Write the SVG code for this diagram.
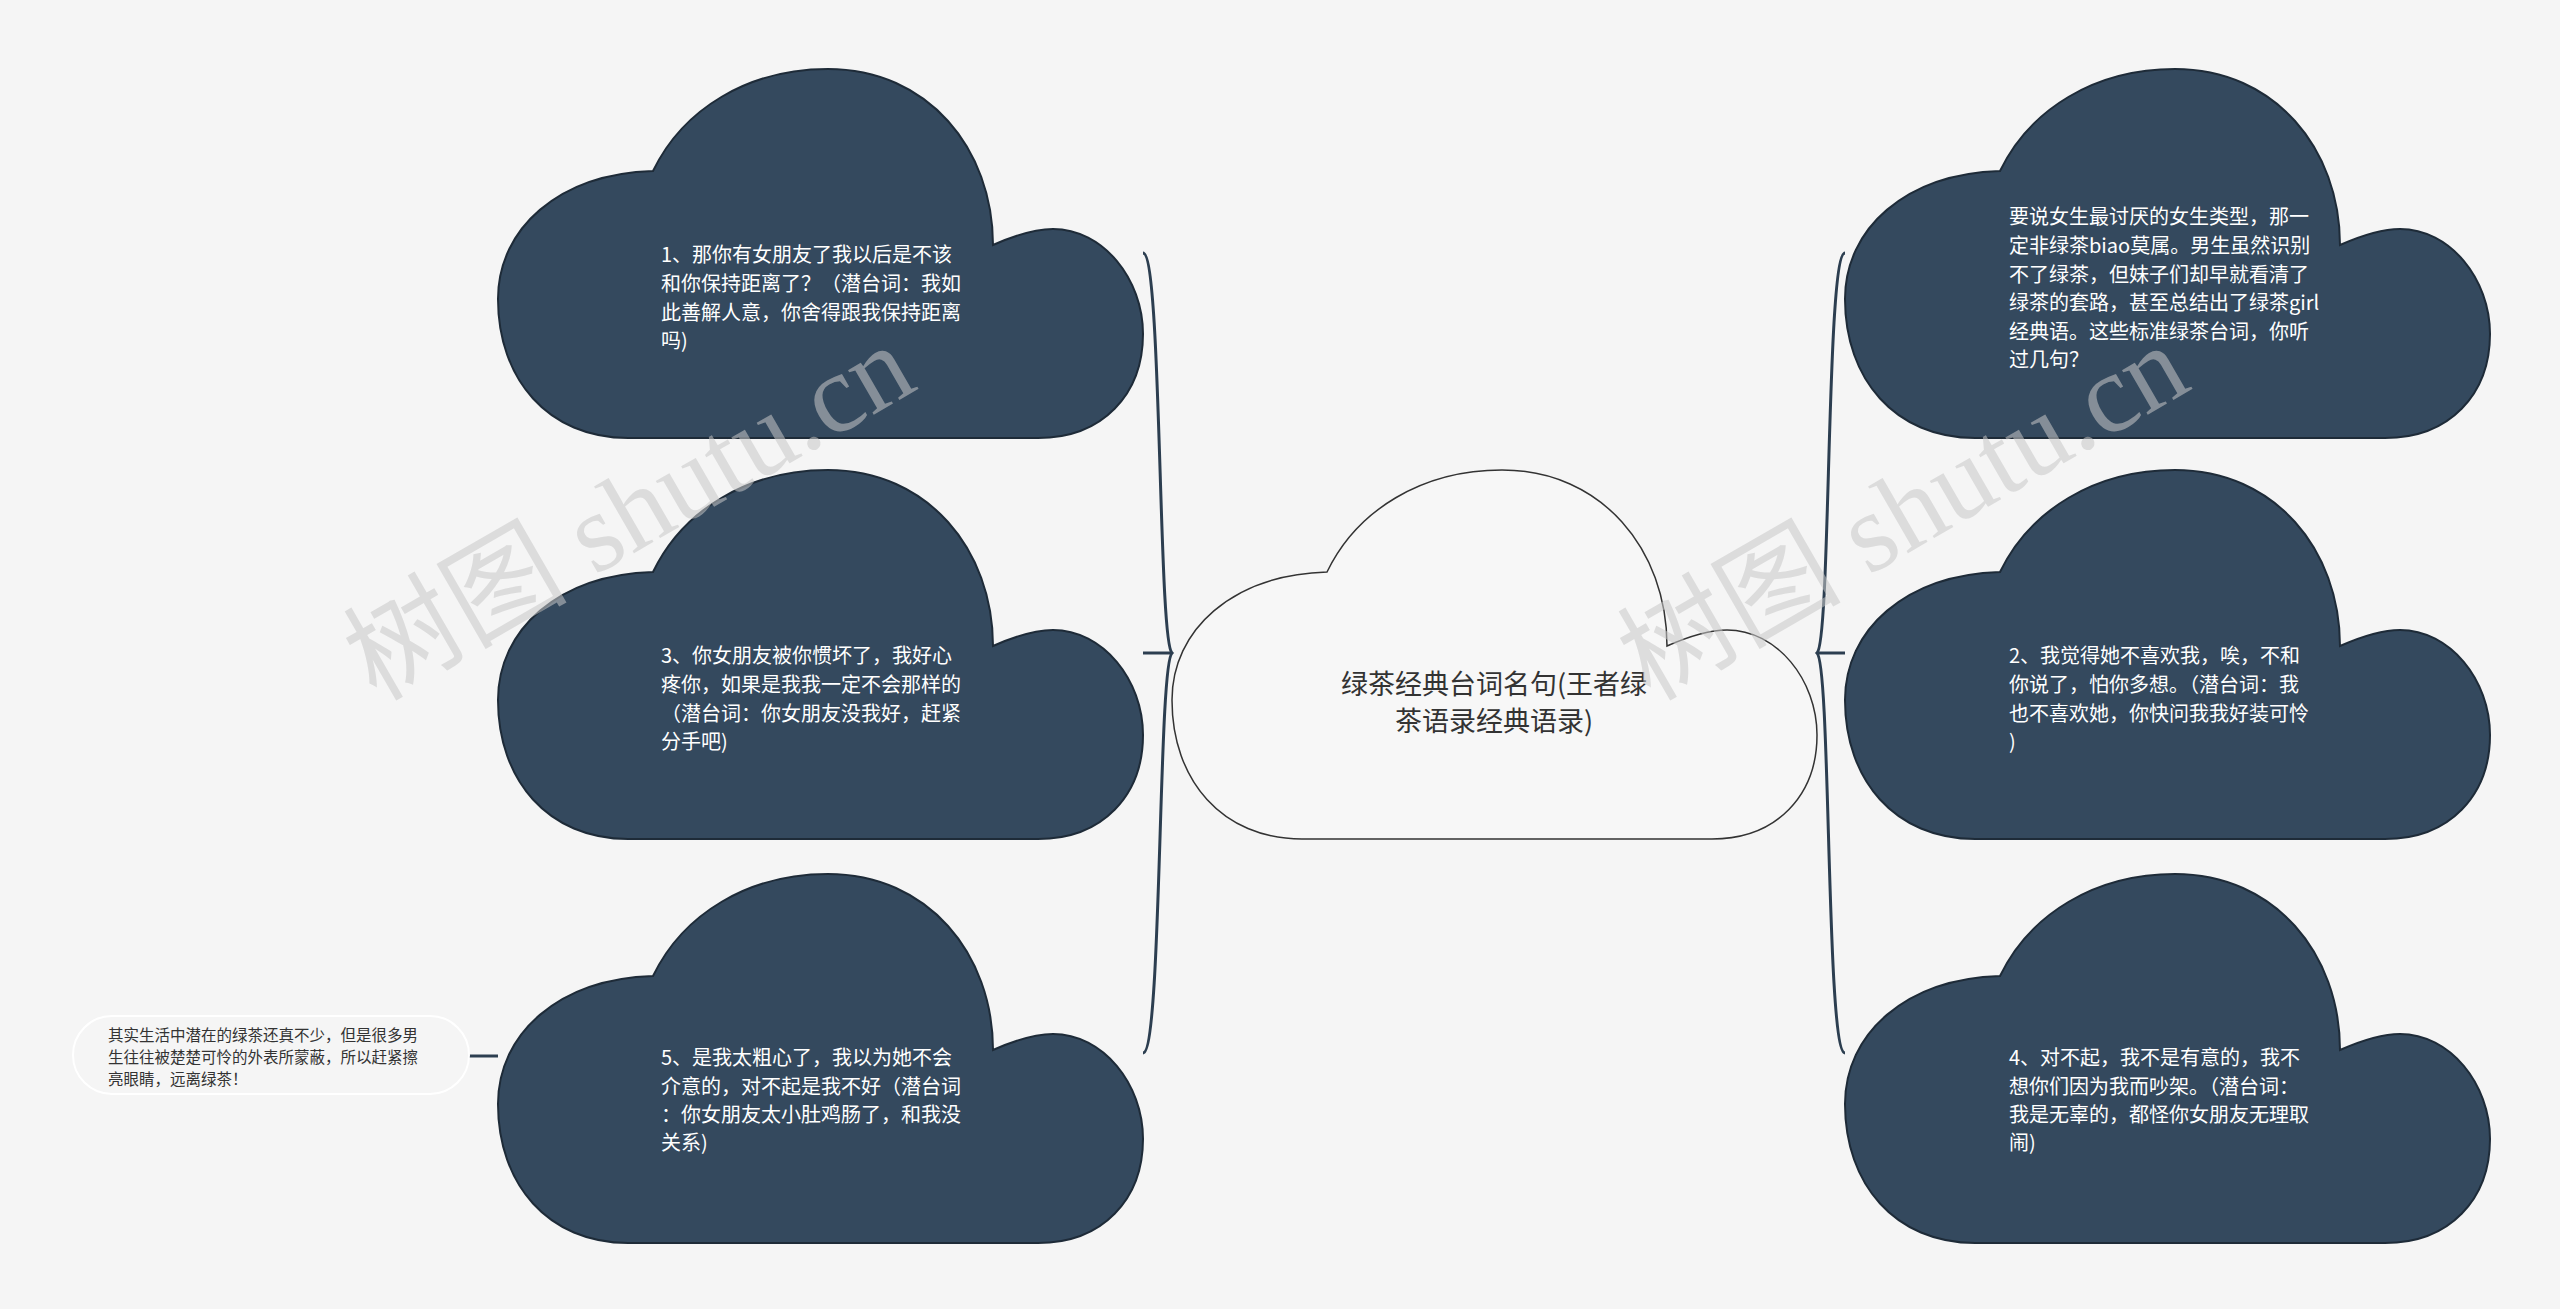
<svg xmlns="http://www.w3.org/2000/svg" xmlns:xlink="http://www.w3.org/1999/xlink" width="2560" height="1309" viewBox="0 0 2560 1309">
<style>
.cl{fill:#34495e;stroke:#1e2b38;stroke-width:2}
.cc{fill:#f7f7f7;stroke:#333;stroke-width:1.5}
.t{font-family:"Noto Sans CJK SC","Liberation Sans",sans-serif;font-size:20px;fill:#ffffff}
.tc{font-family:"Noto Sans CJK SC","Liberation Sans",sans-serif;font-size:27px;fill:#333}
.tl{font-family:"Noto Sans CJK SC","Liberation Sans",sans-serif;font-size:15.5px;fill:#333}
.c{fill:none;stroke:#2c3e50;stroke-width:3}
.wm{font-family:"Liberation Serif","Noto Sans CJK SC",serif;font-size:112px;fill:#c8c8c8;opacity:0.55}
</style>
<defs>
<path id="cloud" d="M130,369 C50,369 0,310 0,230 C0,160 60,105 155,102 C185,40 250,0 330,0 C430,0 495,80 495,176 C520,165 540,160 555,160 C605,160 645,210 645,265 C645,325 605,369 540,369 Z"/>
</defs>
<rect width="2560" height="1309" fill="#f5f5f5"/>
<g id="connectors">
<path class="c" d="M1143,253 C1162,253 1158,640 1172,653 C1158,666 1162,1053 1143,1053"/>
<path class="c" d="M1143,653 H1172"/>
<path class="c" d="M1845,253 C1826,253 1831,640 1817,653 C1831,666 1826,1053 1845,1053"/>
<path class="c" d="M1817,653 H1845"/>
<path class="c" d="M469,1056 H498"/>
</g>
<g id="center"><use xlink:href="#cloud" class="cc" transform="translate(1172,470)"/>
<text class="tc" text-anchor="middle"><tspan x="1494" y="694">绿茶经典台词名句(王者绿</tspan><tspan x="1494" y="731">茶语录经典语录)</tspan></text></g>
<g id="n1"><use xlink:href="#cloud" class="cl" transform="translate(498,69)"/>
<text class="t"><tspan x="661" y="262">1、那你有女朋友了我以后是不该</tspan><tspan x="661" y="291">和你保持距离了？（潜台词：我如</tspan><tspan x="661" y="320">此善解人意，你舍得跟我保持距离</tspan><tspan x="661" y="348">吗)</tspan></text></g>
<g id="n3"><use xlink:href="#cloud" class="cl" transform="translate(498,470)"/>
<text class="t"><tspan x="661" y="663">3、你女朋友被你惯坏了，我好心</tspan><tspan x="661" y="692">疼你，如果是我我一定不会那样的</tspan><tspan x="661" y="721">（潜台词：你女朋友没我好，赶紧</tspan><tspan x="661" y="749">分手吧)</tspan></text></g>
<g id="n5"><use xlink:href="#cloud" class="cl" transform="translate(498,874)"/>
<text class="t"><tspan x="661" y="1065">5、是我太粗心了，我以为她不会</tspan><tspan x="661" y="1094">介意的，对不起是我不好（潜台词</tspan><tspan x="661" y="1122">：你女朋友太小肚鸡肠了，和我没</tspan><tspan x="661" y="1150">关系)</tspan></text></g>
<g id="r0"><use xlink:href="#cloud" class="cl" transform="translate(1845,69)"/>
<text class="t"><tspan x="2009" y="224">要说女生最讨厌的女生类型，那一</tspan><tspan x="2009" y="253">定非绿茶biao莫属。男生虽然识别</tspan><tspan x="2009" y="282">不了绿茶，但妹子们却早就看清了</tspan><tspan x="2009" y="310">绿茶的套路，甚至总结出了绿茶girl</tspan><tspan x="2009" y="339">经典语。这些标准绿茶台词，你听</tspan><tspan x="2009" y="367">过几句？</tspan></text></g>
<g id="r2"><use xlink:href="#cloud" class="cl" transform="translate(1845,470)"/>
<text class="t"><tspan x="2009" y="663">2、我觉得她不喜欢我，唉，不和</tspan><tspan x="2009" y="692">你说了，怕你多想。（潜台词：我</tspan><tspan x="2009" y="721">也不喜欢她，你快问我我好装可怜</tspan><tspan x="2009" y="749">)</tspan></text></g>
<g id="r4"><use xlink:href="#cloud" class="cl" transform="translate(1845,874)"/>
<text class="t"><tspan x="2009" y="1065">4、对不起，我不是有意的，我不</tspan><tspan x="2009" y="1094">想你们因为我而吵架。（潜台词：</tspan><tspan x="2009" y="1122">我是无辜的，都怪你女朋友无理取</tspan><tspan x="2009" y="1150">闹)</tspan></text></g>
<g id="leaf"><rect x="73" y="1016" width="396" height="78" rx="39" fill="#f5f5f5" stroke="#ffffff" stroke-width="2"/>
<text class="tl"><tspan x="108" y="1041">其实生活中潜在的绿茶还真不少，但是很多男</tspan><tspan x="108" y="1063">生往往被楚楚可怜的外表所蒙蔽，所以赶紧擦</tspan><tspan x="108" y="1085">亮眼睛，远离绿茶！</tspan></text></g>
<text class="wm" text-anchor="middle" transform="translate(648,545) rotate(-30)">树图 shutu.cn</text>
<text class="wm" text-anchor="middle" transform="translate(1922,545) rotate(-30)">树图 shutu.cn</text>
</svg>
